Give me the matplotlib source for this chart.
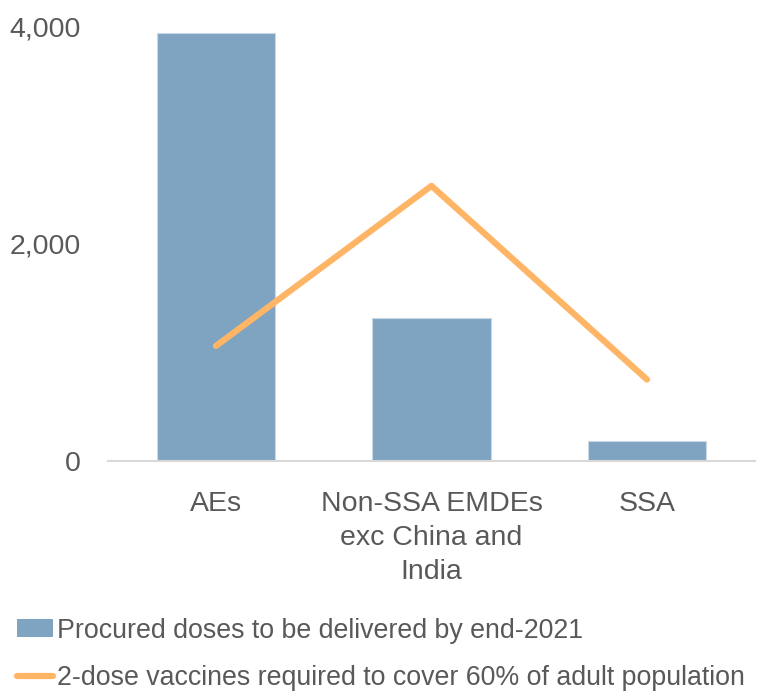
import matplotlib
matplotlib.use('Agg')
import matplotlib.pyplot as plt
from matplotlib.lines import Line2D
from matplotlib.patches import Patch

# data
categories = ['AEs', 'Non-SSA EMDEs\nexc China and\nIndia', 'SSA']
procured = [3940, 1320, 185]
required = [1060, 2535, 750]

barColor = '#7EA4C2'
lineColor = '#FFB566'
textColor = '#595959'

plt.rcParams['font.family'] = ['Liberation Sans Narrow', 'Liberation Sans', 'DejaVu Sans']

fig = plt.figure(figsize=(7.57, 6.91), dpi=100)
ax = fig.add_axes([0.143, 0.333, 0.854, 0.628])

x = list(range(len(categories)))
ax.bar(x, procured, width=0.55, color=barColor, edgecolor='#C9D8E5', linewidth=0.8, zorder=2)
ax.plot(x, required, color=lineColor, linewidth=4.5, solid_capstyle='round',
        solid_joinstyle='round', zorder=3)

ax.set_xlim(-0.5, 2.5)
ax.set_ylim(0, 4000)
ax.set_yticks([0, 2000, 4000])
ax.set_yticklabels(['0', '2,000', '4,000'])
ax.set_xticks(x)
ax.set_xticklabels(categories, linespacing=1.4)

for s in ['top', 'right', 'left']:
    ax.spines[s].set_visible(False)
ax.spines['bottom'].set_color('#D9D9D9')
ax.spines['bottom'].set_linewidth(1.5)
ax.tick_params(axis='both', length=0, labelsize=20.5, colors=textColor)
ax.tick_params(axis='y', pad=20)
ax.tick_params(axis='x', pad=22)

handles = [Patch(facecolor=barColor, edgecolor='none'),
           Line2D([0], [0], color=lineColor, linewidth=4.5, solid_capstyle='round')]
labels = ['Procured doses to be delivered by end-2021',
          '2-dose vaccines required to cover 60% of adult population']
leg = fig.legend(handles, labels, loc='upper left', bbox_to_anchor=(0.022, 0.106),
                 frameon=False, fontsize=19.3, handlelength=1.35, handleheight=0.65,
                 handletextpad=0.15, labelspacing=0.8, borderaxespad=0, borderpad=0)
for t in leg.get_texts():
    t.set_color(textColor)

fig.savefig('out.png', dpi=100)
